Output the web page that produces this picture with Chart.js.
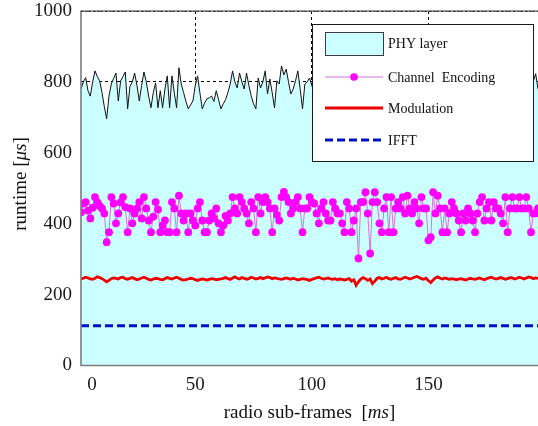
<!DOCTYPE html>
<html><head><meta charset="utf-8">
<script src="https://cdn.jsdelivr.net/npm/chart.js@4.4.1/dist/chart.umd.min.js"></script>
<style>html,body{margin:0;padding:0;background:#fff;overflow:hidden}canvas{display:block}</style>
</head><body>
<canvas id="c" width="538" height="426"></canvas>
<script>
const frames = [
1,2,3,4,5,6,7,8,9,10,11,12,13,14,15,16,17,18,19,20,
21,22,23,24,25,26,27,28,29,30,31,32,33,34,35,36,37,38,39,40,
41,42,43,44,45,46,47,48,49,50,51,52,53,54,55,56,57,58,59,60,
61,62,63,64,65,66,67,68,69,70,71,72,73,74,75,76,77,78,79,80,
81,82,83,84,85,86,87,88,89,90,91,92,93,94,95,96,97,98,99,100,
101,102,103,104,105,106,107,108,109,110,111,112,113,114,115,116,117,118,119,120,
121,122,123,124,125,126,127,128,129,130,131,132,133,134,135,136,137,138,139,140,
141,142,143,144,145,146,147,148,149,150,151,152,153,154,155,156,157,158,159,160,
161,162,163,164,165,166,167,168,169,170,171,172,173,174,175,176,177,178,179,180,
181,182,183,184,185,186,187,188,189,190,191,192,193,194,195,196,197];

const phyLayer = [
780,800,812,775,760,800,831,815,803,770,730,696,760,794,810,825,746,803,815,828,
724,788,800,825,790,746,790,828,800,760,727,770,797,727,775,727,780,817,727,817,
770,727,840,794,770,745,724,735,746,790,817,769,724,740,752,755,760,745,775,750,
724,738,750,770,794,831,800,783,825,800,780,825,790,760,738,724,811,783,800,831,
766,808,770,727,803,794,845,820,836,800,766,780,803,831,780,724,794,800,811,790,
770,812,745,790,826,760,731,798,815,772,740,805,829,786,730,768,812,795,748,722,
780,818,834,770,745,802,790,735,760,821,808,752,728,784,826,799,760,744,810,838,
775,735,790,816,765,726,772,805,830,790,748,762,818,800,742,725,781,824,806,768,
738,795,833,790,754,730,776,812,798,744,762,820,840,785,733,758,807,792,740,728,
786,828,810,765,739,792,817,774,731,769,815,832,788,745,802,823,780];

const channelEncoding = [
432,457,461,437,415,445,475,461,450,443,429,348,376,475,457,401,429,460,475,447,
376,443,401,429,443,461,415,475,443,409,376,420,461,440,376,395,409,376,376,461,
443,376,479,429,409,429,376,429,409,395,443,461,409,376,376,409,429,415,443,401,
376,395,422,409,429,475,443,429,475,461,443,429,401,461,443,376,475,429,461,475,
461,443,376,443,425,409,475,490,475,461,429,443,461,475,443,376,443,443,475,461,
457,429,401,443,461,429,409,409,461,443,429,429,401,376,461,443,376,409,443,302,
461,461,489,429,316,461,489,461,401,376,443,475,376,475,376,443,461,443,475,429,
479,443,429,461,443,401,475,443,443,353,362,489,429,479,443,376,443,376,429,461,
443,429,409,376,429,409,443,429,409,376,429,461,475,409,443,461,409,461,443,443,
429,401,475,376,443,475,443,443,475,443,443,475,443,376,429,429,443];

const modulation = [
244,246,249,247,244,243,246,250,248,245,241,236,240,245,247,246,244,248,249,245,
243,246,248,245,242,244,247,249,246,243,241,244,246,245,243,242,245,248,246,244,
247,249,246,243,241,242,244,246,245,242,240,242,244,243,241,243,245,244,242,243,
244,246,248,245,243,247,250,246,244,248,246,243,245,249,247,244,246,248,245,247,
250,248,245,247,246,244,243,245,247,245,243,246,244,241,243,245,244,242,240,243,
245,247,249,246,244,245,247,244,243,245,242,244,243,241,243,245,238,242,226,236,
244,248,245,240,244,231,238,246,248,244,246,249,245,243,246,248,244,243,246,249,
247,244,246,249,251,248,245,243,246,239,234,241,247,250,246,244,247,245,243,245,
244,242,244,245,243,241,244,246,244,243,245,247,244,242,245,247,249,246,244,246,
248,246,243,245,248,247,244,246,249,247,244,247,250,248,245,247,246];

const ifft = [
112,112,112,112,112,112,112,112,112,112,112,112,112,112,112,112,112,112,112,112,
112,112,112,112,112,112,112,112,112,112,112,112,112,112,112,112,112,112,112,112,
112,112,112,112,112,112,112,112,112,112,112,112,112,112,112,112,112,112,112,112,
112,112,112,112,112,112,112,112,112,112,112,112,112,112,112,112,112,112,112,112,
112,112,112,112,112,112,112,112,112,112,112,112,112,112,112,112,112,112,112,112,
112,112,112,112,112,112,112,112,112,112,112,112,112,112,112,112,112,112,112,112,
112,112,112,112,112,112,112,112,112,112,112,112,112,112,112,112,112,112,112,112,
112,112,112,112,112,112,112,112,112,112,112,112,112,112,112,112,112,112,112,112,
112,112,112,112,112,112,112,112,112,112,112,112,112,112,112,112,112,112,112,112,
112,112,112,112,112,112,112,112,112,112,112,112,112,112,112,112,112];

const yTickValues = [0, 200, 400, 600, 800, 1000];
const yTickLabels = ['0', '200', '400', '600', '800', '1000'];
const xTickValues = [5.7, 50, 100, 150];
const xTickLabels = ['0', '50', '100', '150'];
const seriesNames = ['PHY layer', 'Channel  Encoding', 'Modulation', 'IFFT'];
const xTitleParts = ['radio sub-frames  [', 'ms', ']'];
const yTitleParts = ['runtime [', '\u03BCs', ']'];

const SERIF = "'Liberation Serif', 'Times New Roman', serif";
const COLORS = {
  fill: 'rgb(204,255,255)',
  phy: '#111111',
  chLine: '#d873d8',
  chPoint: '#ff00ff',
  mod: '#f00000',
  ifft: '#0010c8'
};

const toXY = arr => frames.map((f, i) => ({x: f, y: arr[i]}));

function drawMixed(ctx, parts, x, y, size, align) {
  const fonts = [size + 'px ' + SERIF, 'italic ' + size + 'px ' + SERIF, size + 'px ' + SERIF];
  const widths = parts.map((p, i) => { ctx.font = fonts[i]; return ctx.measureText(p).width; });
  const total = widths.reduce((a, b) => a + b, 0);
  let cx = align === 'center' ? x - total / 2 : x;
  ctx.textAlign = 'left';
  ctx.textBaseline = 'middle';
  parts.forEach((p, i) => { ctx.font = fonts[i]; ctx.fillText(p, cx, y); cx += widths[i]; });
}

const decorPlugin = {
  id: 'decor',
  afterDatasetsDraw(chart) {
    const {ctx, chartArea: a} = chart;
    ctx.save();
    ctx.strokeStyle = '#7c7c7c';
    ctx.lineWidth = 1.6;
    ctx.beginPath();
    ctx.moveTo(a.right + 2, a.top);
    ctx.lineTo(a.left, a.top);
    ctx.lineTo(a.left, a.bottom);
    ctx.lineTo(a.right + 2, a.bottom);
    ctx.stroke();
    ctx.strokeStyle = 'rgba(0,0,0,0.55)';
    ctx.lineWidth = 1;
    ctx.setLineDash([2, 2]);
    ctx.beginPath();
    ctx.moveTo(a.left, a.top + 0.5);
    ctx.lineTo(a.right, a.top + 0.5);
    ctx.stroke();
    ctx.restore();
  },
  afterDraw(chart) {
    const {ctx, chartArea: a} = chart;
    ctx.save();
    const bx = 312, by = 24, bw = 221, bh = 137;
    ctx.fillStyle = '#ffffff';
    ctx.fillRect(bx, by, bw, bh);
    ctx.strokeStyle = '#1a1a1a';
    ctx.lineWidth = 1;
    ctx.strokeRect(bx + 0.5, by + 0.5, bw, bh);
    const sx0 = 325, sx1 = 383, tx = 388;
    const rows = [43, 77, 108, 140];
    ctx.fillStyle = COLORS.fill;
    ctx.fillRect(sx0, 32, sx1 - sx0, 23);
    ctx.strokeStyle = '#3a3a3a';
    ctx.strokeRect(sx0 + 0.5, 32.5, sx1 - sx0, 23);
    ctx.strokeStyle = COLORS.chLine;
    ctx.lineWidth = 1.2;
    ctx.beginPath(); ctx.moveTo(sx0, rows[1]); ctx.lineTo(sx1, rows[1]); ctx.stroke();
    ctx.fillStyle = COLORS.chPoint;
    ctx.beginPath(); ctx.arc((sx0 + sx1) / 2, rows[1], 3.8, 0, Math.PI * 2); ctx.fill();
    ctx.strokeStyle = COLORS.mod;
    ctx.lineWidth = 3;
    ctx.beginPath(); ctx.moveTo(sx0, rows[2]); ctx.lineTo(sx1, rows[2]); ctx.stroke();
    ctx.strokeStyle = COLORS.ifft;
    ctx.setLineDash([8, 4]);
    ctx.beginPath(); ctx.moveTo(sx0, rows[3]); ctx.lineTo(sx1, rows[3]); ctx.stroke();
    ctx.setLineDash([]);
    ctx.fillStyle = '#111';
    ctx.font = '14px ' + SERIF;
    ctx.textAlign = 'left';
    ctx.textBaseline = 'middle';
    seriesNames.forEach((n, i) => ctx.fillText(n, tx, rows[i] + 1));
    ctx.fillStyle = '#111';
    drawMixed(ctx, xTitleParts, (a.left + a.right) / 2, 413, 19, 'center');
    ctx.translate(21, 184);
    ctx.rotate(-Math.PI / 2);
    drawMixed(ctx, yTitleParts, 0, 0, 19, 'center');
    ctx.restore();
  }
};

new Chart(document.getElementById('c'), {
  type: 'line',
  data: {
    datasets: [
      {label: seriesNames[0], data: toXY(phyLayer), borderColor: COLORS.phy, borderWidth: 1,
       backgroundColor: COLORS.fill, fill: 'origin', pointRadius: 0, tension: 0, order: 4},
      {label: seriesNames[1], data: toXY(channelEncoding), borderColor: COLORS.chLine, borderWidth: 1,
       pointRadius: 3.9, pointBackgroundColor: COLORS.chPoint, pointBorderWidth: 0, fill: false, tension: 0, order: 1},
      {label: seriesNames[2], data: toXY(modulation), borderColor: COLORS.mod, borderWidth: 2.8,
       pointRadius: 0, fill: false, tension: 0, order: 2},
      {label: seriesNames[3], data: toXY(ifft), borderColor: COLORS.ifft, borderWidth: 3,
       borderDash: [8, 4], pointRadius: 0, fill: false, tension: 0, order: 3}
    ]
  },
  options: {
    responsive: false,
    animation: false,
    devicePixelRatio: 1,
    layout: {autoPadding: false, padding: {top: 11, right: 0, left: 0, bottom: 0}},
    plugins: {legend: {display: false}, tooltip: {enabled: false}},
    scales: {
      x: {
        type: 'linear', min: 1, max: 197,
        afterBuildTicks: s => { s.ticks = xTickValues.map(v => ({value: v})); },
        afterFit: s => { s.height = 60.5; s.paddingLeft = 0; s.paddingRight = 0; },
        ticks: {callback: (v, i) => xTickLabels[i], font: {family: SERIF, size: 19}, color: '#1a1a1a',
                padding: 8, maxRotation: 0, autoSkip: false},
        grid: {color: c => c.index === 0 ? 'rgba(0,0,0,0)' : '#000', lineWidth: 1, drawTicks: false},
        border: {display: false, dash: [3, 3]}
      },
      y: {
        min: 0, max: 1000,
        afterBuildTicks: s => { s.ticks = yTickValues.map(v => ({value: v})); },
        afterFit: s => { s.width = 81; s.paddingTop = 0; s.paddingBottom = 0; },
        ticks: {callback: (v, i) => yTickLabels[i], font: {family: SERIF, size: 19}, color: '#1a1a1a', padding: 9},
        grid: {color: c => (c.tick && c.tick.value === 0) ? 'rgba(0,0,0,0)' : '#000', lineWidth: 1, drawTicks: false},
        border: {display: false, dash: [3, 3]}
      }
    }
  },
  plugins: [decorPlugin]
});
</script>
</body></html>
